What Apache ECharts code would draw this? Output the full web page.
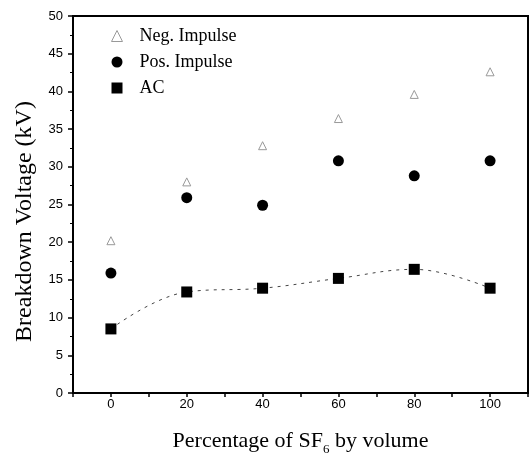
<!DOCTYPE html>
<html><head><meta charset="utf-8">
<script src="https://cdn.jsdelivr.net/npm/echarts@6/dist/echarts.min.js"></script>
<style>html,body{margin:0;padding:0;background:#fff}#c{width:531px;height:457px}</style>
</head><body><div id="c"></div>
<script>
const sfPercent = [0, 20, 40, 60, 80, 100];
const negImpulse = [20.2, 28.0, 32.8, 36.4, 39.6, 42.6];
const posImpulse = [15.9, 25.9, 24.9, 30.8, 28.8, 30.8];
const acValues = [8.5, 13.4, 13.9, 15.2, 16.4, 13.9];
const xTicks = [0, 20, 40, 60, 80, 100];
const yTicks = [0, 5, 10, 15, 20, 25, 30, 35, 40, 45, 50];

const pairs = v => sfPercent.map((x, i) => [x, v[i]]);
const chart = echarts.init(document.getElementById('c'));
chart.setOption({
  animation: false,
  grid: {left: 73, right: 3, top: 16, bottom: 64, outerBoundsMode: 'none', containLabel: false},
  legend: {
    orient: 'vertical', left: 106, top: 22, itemGap: 8, itemWidth: 11, itemHeight: 11,
    textStyle: {fontFamily: 'Liberation Serif', fontSize: 18, color: '#000', padding: [0, 0, 0, 12]},
    data: [
      {name: 'Neg. Impulse', icon: 'triangle', itemStyle: {color: '#fff', borderColor: '#999', borderWidth: 1}},
      {name: 'Pos. Impulse', icon: 'circle'},
      {name: 'AC', icon: 'rect'}
    ]
  },
  xAxis: {
    type: 'value', min: -10, max: 110, interval: 10,
    axisLine: {show: true, onZero: false, lineStyle: {color: '#000', width: 2}},
    axisTick: {show: true, length: 4, lineStyle: {color: '#000', width: 1.5}},
    minorTick: {show: false},
    splitLine: {show: false},
    axisLabel: {
      fontFamily: 'Liberation Sans', fontSize: 13, color: '#000', margin: 5,
      formatter: v => xTicks.includes(v) ? String(v) : ''
    },
    name: '{a|Percentage of SF}{s|6}{a| by volume}',
    nameLocation: 'middle', nameGap: 34,
    nameTextStyle: {rich: {
      a: {fontFamily: 'Liberation Serif', fontSize: 22, color: '#000'},
      s: {fontFamily: 'Liberation Serif', fontSize: 13, color: '#000', verticalAlign: 'bottom', padding: [16, 0, 0, 0]}
    }}
  },
  yAxis: {
    type: 'value', min: 0, max: 50, interval: 5,
    axisLine: {show: true, onZero: false, lineStyle: {color: '#000', width: 2}},
    axisTick: {show: true, length: 5, lineStyle: {color: '#000', width: 1.5}},
    minorTick: {show: true, splitNumber: 2, length: 3, lineStyle: {color: '#000'}},
    splitLine: {show: false},
    axisLabel: {fontFamily: 'Liberation Sans', fontSize: 13, color: '#000', margin: 10,
      formatter: v => yTicks.includes(v) ? String(v) : ''},
    name: 'Breakdown Voltage (kV)', nameLocation: 'middle', nameGap: 36,
    nameTextStyle: {fontFamily: 'Liberation Serif', fontSize: 24, color: '#000', padding: [0, 34, 0, 0]}
  },
  graphic: [{type: 'rect', shape: {x: 73, y: 16, width: 455, height: 377}, style: {fill: 'none', stroke: '#000', lineWidth: 2}, silent: true}],
  series: [
    {name: 'Neg. Impulse', type: 'scatter', data: pairs(negImpulse), symbol: 'triangle', symbolSize: 8,
      itemStyle: {color: '#fff', borderColor: '#999', borderWidth: 1, opacity: 1}},
    {name: 'Pos. Impulse', type: 'scatter', data: pairs(posImpulse), symbol: 'circle', symbolSize: 11,
      itemStyle: {color: '#000', opacity: 1}},
    {name: 'AC', type: 'line', data: pairs(acValues), symbol: 'rect', symbolSize: 11, smooth: 0.4,
      itemStyle: {color: '#000', opacity: 1}, lineStyle: {color: '#444', width: 1, type: [3, 5]}}
  ]
});
</script></body></html>
